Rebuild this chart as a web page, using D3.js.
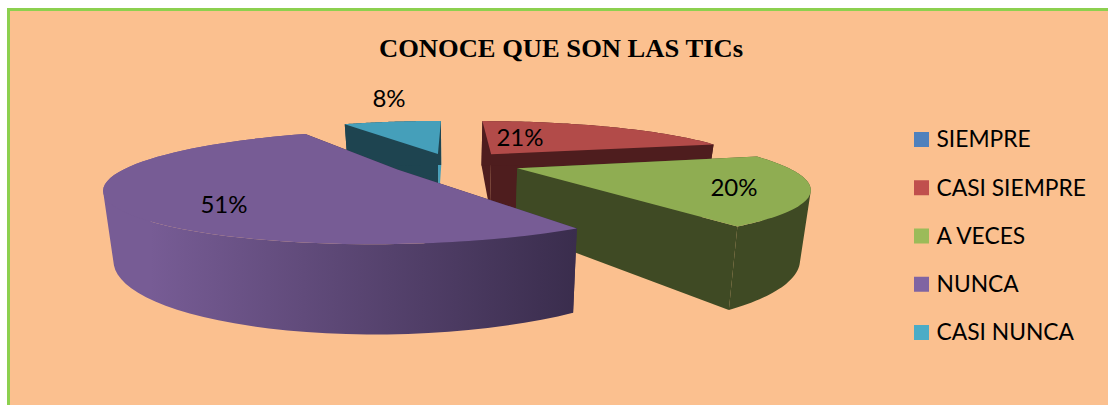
<!DOCTYPE html>
<html>
  <head>
    <meta http-equiv="Content-Type" content="text/html;charset=utf-8" />
    <title>Conoce que son las TICs</title>
    <script type="text/javascript" src="https://d3js.org/d3.v7.min.js"></script>
    <style>
      html, body { margin: 0; padding: 0; background: #fff; overflow: hidden; }
      svg { display: block; }
    </style>
  </head>
  <body>
    <div id="chart"></div>

    <script type="text/javascript">
      const titleText = "CONOCE QUE SON LAS TICs";
      const categories = ["SIEMPRE", "CASI SIEMPRE", "A VECES", "NUNCA", "CASI NUNCA"];
      const percents = [0, 21, 20, 51, 8];

      const topColors = ["#4f81bd", "#b24b49", "#8fad52", "#775c95", "#459fba"];
      const swatchColors = ["#4f81bd", "#c0504d", "#9bbb59", "#8064a2", "#4bacc6"];
      const wallColors = ["#27415f", "#4e1d1e", "#3f4a24", "#775c95", "#1e4450"];

      // label centres on the page, same order as categories
      const labelOffsets = [null, [520, 138], [734, 188], [224, 205], [389, 99]];
      // how far each slice is pulled out, same order
      const explodes = [0, 0.26, 0.26, 0.23, 0.22];

      var width = 1108;
      var height = 405;

      // perspective pie: centre, radii, vanishing strength, thickness
      var cx = 451.5, cy = 163.6;
      var rx = 264, ry = 48, k = 0.3;
      var thick = 60, shrink = 0.97;

      var svg = d3
        .select("#chart")
        .append("svg")
        .attr("width", width)
        .attr("height", height);

      var defs = svg.append("defs");
      var gradient = defs
        .append("linearGradient")
        .attr("id", "nuncaWall")
        .attr("gradientUnits", "userSpaceOnUse")
        .attr("x1", 150)
        .attr("x2", 575)
        .attr("y1", 0)
        .attr("y2", 0);
      gradient.append("stop").attr("offset", "0%").attr("stop-color", "#775c95");
      gradient.append("stop").attr("offset", "100%").attr("stop-color", "#3a2d4d");

      svg
        .append("rect")
        .attr("x", 8.5)
        .attr("y", 9.5)
        .attr("width", width + 20)
        .attr("height", height + 20)
        .attr("fill", "#fbc08f")
        .attr("stroke", "#8cd04f")
        .attr("stroke-width", 3);

      svg
        .append("text")
        .attr("x", 561)
        .attr("y", 57)
        .attr("text-anchor", "middle")
        .attr("font-family", "Liberation Serif")
        .attr("font-weight", "bold")
        .attr("font-size", 25)
        .attr("textLength", 364)
        .attr("lengthAdjust", "spacingAndGlyphs")
        .attr("fill", "#000")
        .text(titleText);

      var pie = d3.pie().sort(null).value(d => d);
      var arcs = pie(percents);

      // plane point -> page point, z = 1 is the bottom of the pie
      function project(u, v, z) {
        var s = 1 / (1 - k * v);
        var x = rx * u * s;
        var y = ry * v * s;
        if (z) {
          x = x * shrink;
          y = y + thick * s;
        }
        return [cx + x, cy + y];
      }

      var line = d3.line();

      function arcPoints(d) {
        var mid = (d.startAngle + d.endAngle) / 2;
        var ox = explodes[d.index] * Math.sin(mid);
        var oy = -explodes[d.index] * Math.cos(mid);
        var steps = d3.range(0, 61).map(i => d.startAngle + ((d.endAngle - d.startAngle) * i) / 60);
        return {
          apex: [ox, oy],
          rim: steps.map(a => [ox + Math.sin(a), oy - Math.cos(a)])
        };
      }

      function wallPath(a, b) {
        return (
          line(a.map(p => project(p[0], p[1], 0)).concat(
            b.slice().reverse().map(p => project(p[0], p[1], 1))
          )) + "Z"
        );
      }

      // outer wall as one quad per rim step, all wound the same way so the fold fills
      function rimPath(rim) {
        return d3.pairs(rim).map(pair => {
          var quad = [
            project(pair[0][0], pair[0][1], 0),
            project(pair[1][0], pair[1][1], 0),
            project(pair[1][0], pair[1][1], 1),
            project(pair[0][0], pair[0][1], 1)
          ];
          if (d3.polygonArea(quad) < 0) quad.reverse();
          return line(quad) + "Z";
        }).join("");
      }

      // back to front so the big slice covers the others
      var drawOrder = [4, 1, 2, 3];
      var g = svg.append("g");

      drawOrder.forEach(i => {
        var d = arcs[i];
        var pts = arcPoints(d);
        var first = pts.rim[0];
        var last = pts.rim[pts.rim.length - 1];
        var slice = g.append("g").attr("class", "slice-" + i);
        var radialColor = i === 3 ? "#3a2d4d" : wallColors[i];

        slice.append("path")
          .attr("d", wallPath([pts.apex, first], [pts.apex, first]))
          .attr("fill", radialColor);
        slice.append("path")
          .attr("d", wallPath([pts.apex, last], [pts.apex, last]))
          .attr("fill", i === 4 ? "#459fba" : radialColor);
        slice.append("path")
          .attr("d", rimPath(pts.rim))
          .attr("fill", i === 3 ? "url(#nuncaWall)" : wallColors[i]);
        slice.append("path")
          .attr("d", line([pts.apex].concat(pts.rim).map(p => project(p[0], p[1], 0))) + "Z")
          .attr("fill", topColors[i]);
      });

      svg
        .append("g")
        .selectAll("text")
        .data(arcs.filter(d => d.data > 0))
        .enter()
        .append("text")
        .attr("x", d => labelOffsets[d.index][0])
        .attr("y", d => labelOffsets[d.index][1])
        .attr("dy", "0.35em")
        .attr("text-anchor", "middle")
        .attr("font-family", "Lato")
        .attr("font-size", 24)
        .attr("fill", "#000")
        .text(d => d.data + "%");

      var legendY = d3.scalePoint().domain(categories).range([139.5, 332.5]);

      var legend = svg
        .append("g")
        .selectAll("g")
        .data(categories)
        .enter()
        .append("g")
        .attr("transform", d => "translate(914, " + legendY(d) + ")");

      legend
        .append("rect")
        .attr("y", -7.5)
        .attr("width", 15)
        .attr("height", 15)
        .attr("fill", (d, i) => swatchColors[i]);

      legend
        .append("text")
        .attr("x", 22.5)
        .attr("dy", "0.35em")
        .attr("font-family", "Lato")
        .attr("font-size", 22.8)
        .attr("fill", "#000")
        .text(d => d);
    </script>
  </body>
</html>
